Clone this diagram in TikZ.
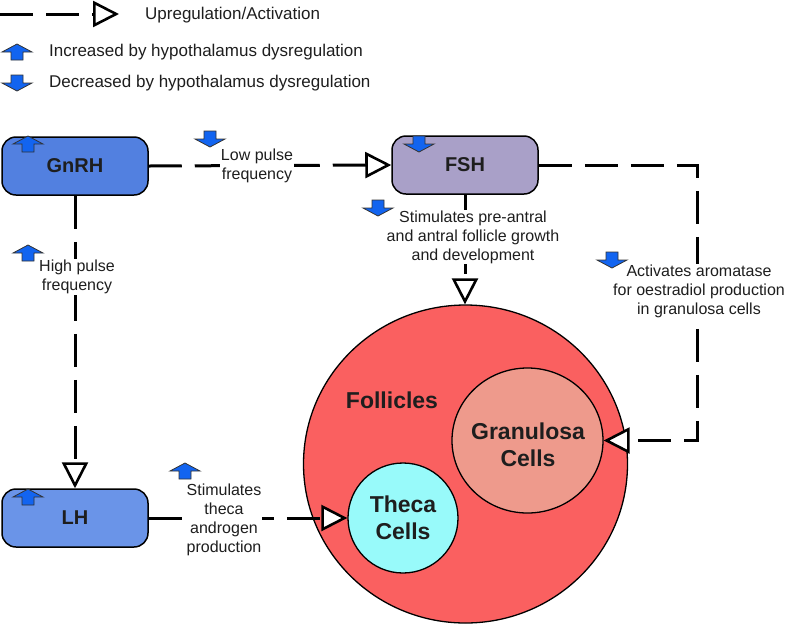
\documentclass[tikz,border=0pt]{standalone}
\usepackage{fontspec}
\setmainfont{Liberation Sans}
\usetikzlibrary{arrows.meta,shapes.geometric}
\definecolor{gnrhc}{RGB}{82,128,224}
\definecolor{lhc}{RGB}{106,148,232}
\definecolor{fshc}{RGB}{169,160,200}
\definecolor{follc}{RGB}{250,96,96}
\definecolor{granc}{RGB}{238,154,140}
\definecolor{thecac}{RGB}{152,250,250}
\definecolor{iconc}{RGB}{18,100,240}
\definecolor{txtc}{RGB}{30,30,30}
\tikzset{
  box/.style={draw=black, line width=1.5pt, rounded corners=14pt, minimum width=146pt, minimum height=58pt, font=\fontsize{20}{24}\selectfont\bfseries, text=txtc},
  cell/.style={draw=black, line width=1.3pt, ellipse, inner sep=0pt},
  celltext/.style={align=center, inner sep=0pt, font=\fontsize{23}{27}\selectfont\bfseries, text=txtc},
  conn/.style={line width=3pt, dash pattern=on 33pt off 13pt, -{Triangle[length=26pt,width=26pt,fill=white,line width=2.6pt]}},
  lbl/.style={fill=white, inner sep=1pt, align=center, font=\fontsize{16}{19}\selectfont, text=txtc},
  leg/.style={anchor=west, inner sep=0pt, font=\fontsize{17}{20}\selectfont, text=txtc},
  uparr/.pic={\draw[fill=iconc, line width=0.8pt, draw=black!80] (-15,0) -- (0,-8) -- (15,0) -- (6,0) -- (6,8) -- (-6,8) -- (-6,0) -- cycle;},
  dnarr/.pic={\draw[fill=iconc, line width=0.8pt, draw=black!80] (-15,0) -- (0,8) -- (15,0) -- (6,0) -- (6,-8) -- (-6,-8) -- (-6,0) -- cycle;}
}
\begin{document}
\begin{tikzpicture}[x=1pt,y=-1pt]
\useasboundingbox (0,0) rectangle (787,625);
% legend
\coordinate (l0) at (0,14);
\coordinate (l1) at (119,14);
\draw[conn] (l0) -- (l1);
\node[leg] (legA) at (145,15) {Upregulation/Activation};
\pic at (17,52) {uparr};
\node[leg] (legB) at (49,52) {Increased by hypothalamus dysregulation};
\pic at (17,83) {dnarr};
\node[leg] (legC) at (49,83) {Decreased by hypothalamus dysregulation};
% boxes
\node[box, fill=gnrhc] (gnrh) at (75,166) {GnRH};
\node[box, fill=fshc] (fsh) at (465,165) {FSH};
\node[box, fill=lhc] (lh) at (75,518) {LH};
% circles
\node[cell, fill=follc, minimum width=324pt, minimum height=318pt] (foll) at (465.5,464) {};
\node[cell, fill=granc, minimum width=151pt, minimum height=145pt] (gran) at (527.5,440.5) {};
\node[cell, fill=thecac, minimum width=110pt, minimum height=110pt] (theca) at (403,518) {};
\node[celltext] (grant) at (528,445) {Granulosa\\Cells};
\node[celltext] (thecat) at (403,518) {Theca\\Cells};
\node[celltext] (follt) at (392,400) {Follicles};
% connectors
\coordinate (c1) at (697,165);
\coordinate (c2) at (697,440.5);
\draw[conn] (gnrh.east) -- (fsh.west);
\draw[conn] (gnrh.south) -- (lh.north);
\draw[conn] (fsh.south) -- (fsh.south |- foll.north);
\draw[conn] (fsh.east) -- (c1) -- (c2) -- (gran.east);
\draw[conn] (lh.east) -- (theca.west);
% labels
\node[lbl] (t1) at (257,166) {Low pulse\\frequency};
\node[lbl] (t2) at (77,277) {High pulse\\frequency};
\node[lbl] (t3) at (473,237) {Stimulates pre-antral\\and antral follicle growth\\and development};
\node[lbl] (t4) at (699,291) {Activates aromatase\\for oestradiol production\\in granulosa cells};
\node[lbl] (t5) at (224,520) {Stimulates\\theca\\androgen\\production};
% icons
\pic at (28,144) {uparr};
\pic at (210,139) {dnarr};
\pic at (419,144) {dnarr};
\pic at (378,208) {dnarr};
\pic at (612,260) {dnarr};
\pic at (28,497) {uparr};
\pic at (185,471) {uparr};
\pic at (28,253) {uparr};
\end{tikzpicture}
\end{document}
